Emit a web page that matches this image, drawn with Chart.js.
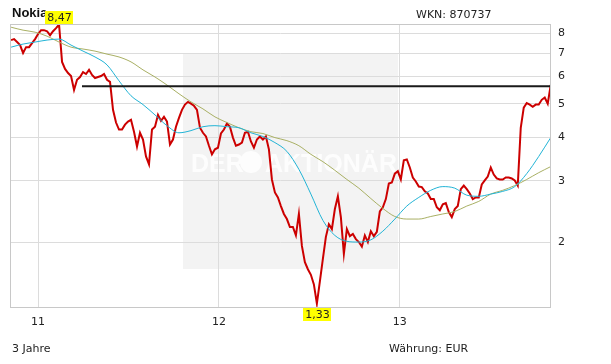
<!DOCTYPE html>
<html>
<head>
<meta charset="utf-8">
<script src="https://cdn.jsdelivr.net/npm/chart.js@4.4.1/dist/chart.umd.min.js"></script>
<style>
  html, body { margin: 0; padding: 0; background: #fff; }
  #wrap { width: 611px; height: 364px; position: relative; }
</style>
</head>
<body>
<div id="wrap"><canvas id="chart" width="611" height="364"></canvas></div>
<script>
// ==================== DATA ====================
const title = "Nokia";
const wknLabel = "WKN: 870737";
const periodLabel = "3 Jahre";
const currencyLabel = "Währung: EUR";

const yearTicks = [11, 12, 13];
const priceTicks = [2, 3, 4, 5, 6, 7, 8];

// close prices in EUR, one reading about every 6 days from early Nov 2010
const priceStart = 10.851;
const priceStep = 0.016575;
const priceValues = [
  7.64, 7.69, 7.54, 7.39, 7.01, 7.29, 7.29, 7.49, 7.69, 7.95,
  8.16, 8.16, 8.10, 7.89, 8.10, 8.27, 8.47, 6.61, 6.31, 6.14,
  6.02, 5.49, 5.87, 5.98, 6.18, 6.10, 6.27, 6.06, 5.94, 5.98,
  6.02, 6.10, 5.87, 5.79, 4.81, 4.42, 4.22, 4.22, 4.36, 4.45,
  4.50, 4.16, 3.77, 4.13, 3.95, 3.53, 3.35, 4.22, 4.30, 4.65,
  4.47, 4.59, 4.45, 3.82, 3.95, 4.30, 4.56, 4.81, 4.98, 5.07,
  5.01, 4.94, 4.81, 4.27, 4.13, 4.03, 3.79, 3.58, 3.70, 3.74,
  4.11, 4.22, 4.39, 4.30, 4.00, 3.79, 3.82, 3.87, 4.13, 4.16,
  3.90, 3.74, 3.95, 4.03, 3.95, 4.03, 3.70, 3.03, 2.78, 2.69,
  2.54, 2.41, 2.33, 2.21, 2.21, 2.09, 2.41, 1.95, 1.75, 1.67,
  1.61, 1.51, 1.33, 1.54, 1.79, 2.07, 2.25, 2.18, 2.49, 2.71,
  2.36, 1.85, 2.18, 2.08, 2.11, 2.04, 2.00, 1.94, 2.09, 2.00,
  2.15, 2.08, 2.14, 2.45, 2.52, 2.66, 2.95, 2.97, 3.15, 3.20,
  3.03, 3.44, 3.46, 3.28, 3.07, 2.99, 2.89, 2.88, 2.80, 2.76,
  2.66, 2.66, 2.52, 2.47, 2.57, 2.59, 2.44, 2.36, 2.49, 2.54,
  2.84, 2.91, 2.84, 2.76, 2.66, 2.69, 2.69, 2.93, 3.01, 3.09,
  3.28, 3.13, 3.05, 3.03, 3.03, 3.07, 3.07, 3.05, 3.01, 2.91,
  4.27, 4.88, 5.03, 4.98, 4.91, 4.98, 4.98, 5.14, 5.22, 5.01,
  5.67
];

// moving averages, one reading about every 24 days
const maStep = 0.0663;
const maShortValues = [
  7.29, 7.44, 7.54, 7.64, 7.69, 7.39, 7.10, 6.83, 6.48, 5.83,
  5.28, 4.98, 4.65, 4.33, 4.13, 4.19, 4.30, 4.33, 4.30, 4.27,
  4.13, 4.03, 3.87, 3.65, 3.24, 2.75, 2.31, 2.09, 2.01, 2.00,
  2.03, 2.15, 2.33, 2.54, 2.69, 2.82, 2.89, 2.86, 2.73, 2.71,
  2.75, 2.80, 2.89, 3.15, 3.53, 4.00
];
const maLongValues = [
  8.32, 8.16, 8.05, 7.84, 7.54, 7.29, 7.20, 7.10, 6.96, 6.83,
  6.61, 6.27, 5.98, 5.67, 5.35, 5.07, 4.84, 4.59, 4.42, 4.27,
  4.16, 4.11, 4.00, 3.92, 3.79, 3.58, 3.41, 3.22, 3.03, 2.86,
  2.67, 2.50, 2.37, 2.33, 2.33, 2.37, 2.41, 2.45, 2.54, 2.62,
  2.75, 2.82, 2.91, 3.03, 3.17, 3.30
];

// horizontal marker line
const levelValue = 5.62;
const levelFrom = 11.243;

const xMin = 10.845, xMax = 13.836;
const yMin = 1.31, yMax = 8.5;

// ==================== UTILS ====================
const FONT = "'DejaVu Sans', Verdana, sans-serif";
const series = (start, step, vals) => vals.map((v, i) => ({ x: start + i * step, y: v }));
const fmt = (v) => v.toFixed(2).replace(".", ",");

const drawTag = (ctx, text, cx, top) => {
  ctx.font = "11px " + FONT;
  const w = Math.ceil(ctx.measureText(text).width) + 3;
  ctx.fillStyle = "#ffff00";
  ctx.fillRect(Math.round(cx - w / 2), top, w, 13);
  ctx.fillStyle = "#222";
  ctx.textAlign = "center";
  ctx.textBaseline = "middle";
  ctx.fillText(text, Math.round(cx) + 0.5, top + 7);
};

// ==================== PLUGIN ====================
const decor = {
  id: "decor",
  beforeDraw(chart) {
    const { ctx, chartArea: a } = chart;
    ctx.save();
    ctx.fillStyle = "#fff";
    ctx.fillRect(0, 0, chart.width, chart.height);

    // watermark block
    const bx = a.left + 173, by = a.top + 29;
    ctx.fillStyle = "#f3f3f3";
    ctx.fillRect(bx, by, 215, 216);
    ctx.fillStyle = "#fdfdfd";
    ctx.font = "bold 25px 'Liberation Sans', Arial, sans-serif";
    ctx.textBaseline = "alphabetic";
    ctx.textAlign = "left";
    ctx.fillText("DER", bx + 8, by + 119);
    ctx.beginPath();
    ctx.arc(bx + 68, by + 109, 11, 0, Math.PI * 2);
    ctx.fill();
    ctx.fillText("AKTIONÄR", bx + 82, by + 119);
    ctx.restore();
  },
  afterDraw(chart) {
    const { ctx, chartArea: a, scales } = chart;
    ctx.save();
    ctx.strokeStyle = "#c8c8c8";
    ctx.lineWidth = 1;
    ctx.strokeRect(a.left + 0.5, a.top + 0.5, a.right - a.left - 1, a.bottom - a.top);

    ctx.fillStyle = "#111";
    ctx.textBaseline = "alphabetic";
    ctx.textAlign = "left";
    ctx.font = "bold 13px 'Liberation Sans', Arial, sans-serif";
    ctx.fillText(title, 12, 17);
    ctx.font = "11px " + FONT;
    ctx.fillStyle = "#222";
    ctx.fillText(wknLabel, 416, 18);
    ctx.fillText(periodLabel, 12, 352);
    ctx.fillText(currencyLabel, 389, 352);

    // high / low tags
    let hi = 0, lo = 0;
    priceValues.forEach((v, i) => {
      if (v > priceValues[hi]) hi = i;
      if (v < priceValues[lo]) lo = i;
    });
    const hx = scales.x.getPixelForValue(priceStart + hi * priceStep);
    const lx = scales.x.getPixelForValue(priceStart + lo * priceStep);
    drawTag(ctx, fmt(priceValues[hi]), hx, a.top - 13);
    drawTag(ctx, fmt(priceValues[lo]), lx, a.bottom + 1);
    ctx.restore();
  }
};

// ==================== CHART ====================
new Chart(document.getElementById("chart"), {
  type: "line",
  data: {
    datasets: [
      {
        data: [{ x: levelFrom, y: levelValue }, { x: xMax, y: levelValue }],
        borderColor: "#1a1a1a", borderWidth: 2, pointRadius: 0, order: 0
      },
      {
        data: series(priceStart, maStep, maShortValues),
        borderColor: "#22b4d6", borderWidth: 1, pointRadius: 0,
        cubicInterpolationMode: "monotone", order: 1
      },
      {
        data: series(priceStart, maStep, maLongValues),
        borderColor: "#a9b064", borderWidth: 1, pointRadius: 0,
        cubicInterpolationMode: "monotone", order: 2
      },
      {
        data: series(priceStart, priceStep, priceValues),
        borderColor: "#cc0000", borderWidth: 2, pointRadius: 0,
        tension: 0, order: 3
      }
    ]
  },
  options: {
    responsive: false,
    devicePixelRatio: 1,
    animation: false,
    events: [],
    layout: { padding: { top: 24, left: 10, right: 0, bottom: 0 } },
    plugins: { legend: { display: false }, tooltip: { enabled: false } },
    scales: {
      x: {
        type: "linear", min: xMin, max: xMax,
        afterBuildTicks: (s) => { s.ticks = yearTicks.map(v => ({ value: v })); },
        afterFit: (s) => { s.height = 57; },
        ticks: {
          callback: (v) => String(v), color: "#222", padding: 9,
          font: { family: FONT, size: 11 }, maxRotation: 0, autoSkip: false
        },
        grid: { color: "#dcdcdc", drawTicks: false },
        border: { display: false }
      },
      y: {
        type: "logarithmic", position: "right", min: yMin, max: yMax,
        afterBuildTicks: (s) => { s.ticks = priceTicks.map(v => ({ value: v })); },
        afterFit: (s) => { s.width = 60; },
        ticks: {
          callback: (v) => String(v), color: "#222", padding: 7,
          font: { family: FONT, size: 11 }, autoSkip: false
        },
        grid: { color: "#dcdcdc", drawTicks: false },
        border: { display: false }
      }
    }
  },
  plugins: [decor]
});
</script>
</body>
</html>
